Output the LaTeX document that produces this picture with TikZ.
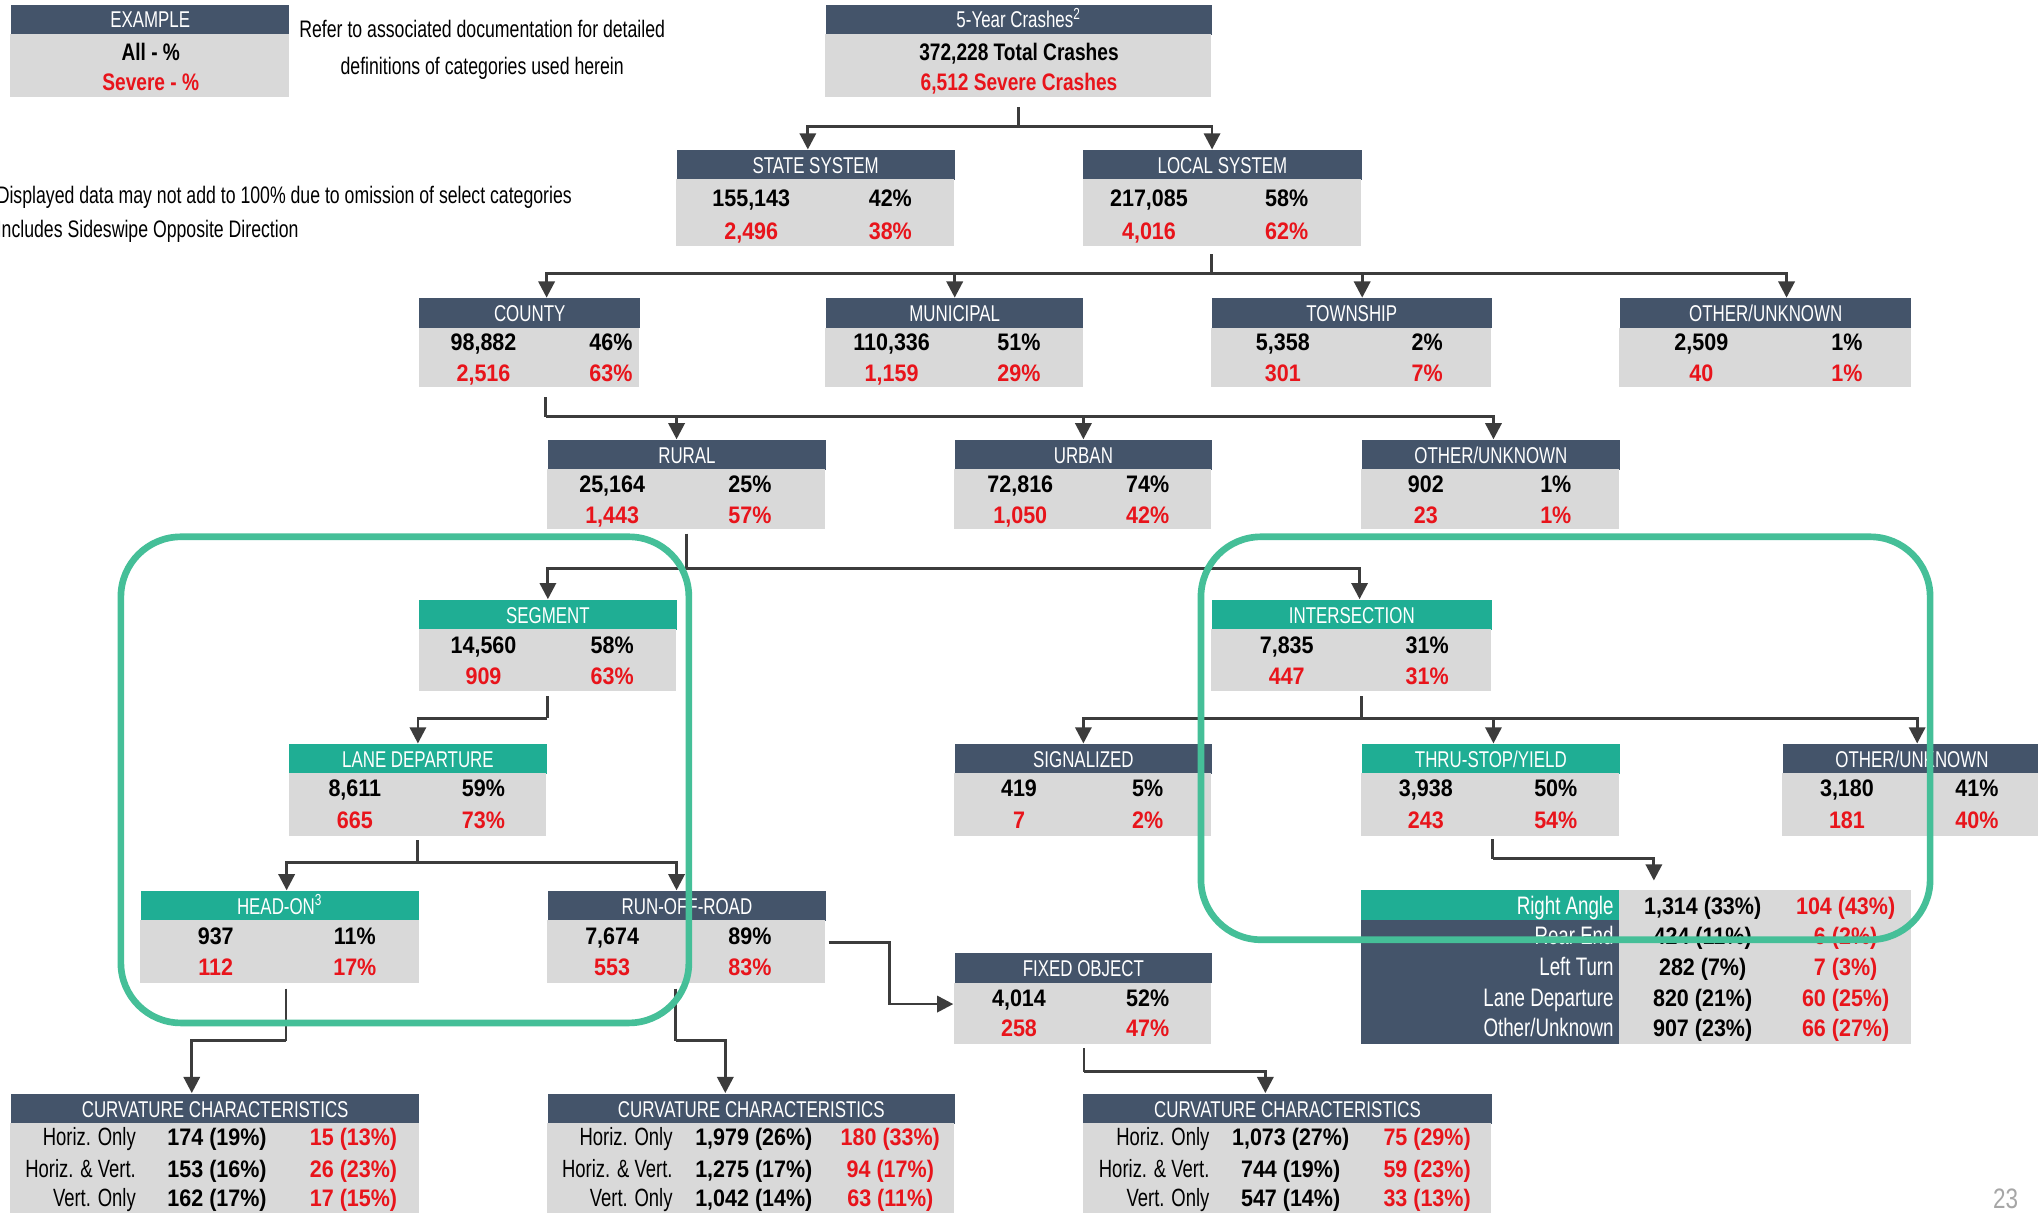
\documentclass[tikz,border=0pt]{standalone}
\usepackage{fontspec}
\setmainfont{Liberation Sans}[FakeStretch=0.8]
\newfontfamily\numfont{Liberation Sans}[FakeStretch=0.9]
\newfontfamily\hdfont{Liberation Sans}[FakeStretch=0.74]
\usetikzlibrary{arrows.meta,fit,calc}
\definecolor{hdrc}{HTML}{44546A}
\definecolor{tealc}{HTML}{1FAE94}
\definecolor{greenc}{HTML}{45BF98}
\definecolor{grayc}{HTML}{D9D9D9}
\definecolor{redc}{HTML}{E8141B}
\definecolor{linec}{HTML}{3C3C3C}
\newcommand\dbox[7]{%
  \node[#2, anchor=north west, minimum width={(#4-#3)*0.013cm}, minimum height={23*0.013cm}] (#1) at (#3,#5) {#7};
  \node[bd, fit={(#3,{#5+23})(#4,#6)}] (#1-b) {};}
\newcommand\dvals[9]{%
  \node[vk] (#1-v1) at (#2,#4) {#6};
  \node[vk] (#1-p1) at (#3,#4) {#7};
  \node[vr] (#1-v2) at (#2,#5) {#8};
  \node[vr] (#1-p2) at (#3,#5) {#9};}
\newcommand\crow[6]{%
  \node[clab, anchor=east] (#1-l) at (#2,#3) {#4};
  \node[vk] (#1-a) at ({#2+62},#3) {#5};
  \node[vr] (#1-c) at ({#2+167},#3) {#6};}
\begin{document}
\begin{tikzpicture}[x=0.013cm,y=-0.013cm,
  hd/.style={fill=hdrc, text=white, inner sep=0pt, text height=4.8pt, text depth=0pt, font=\hdfont\fontsize{6.5}{7}\selectfont},
  ht/.style={hd, fill=tealc},
  bd/.style={fill=grayc, inner sep=0pt},
  vk/.style={inner sep=0pt, text height=4.9pt, text depth=0pt, font=\numfont\bfseries\fontsize{6.8}{8}\selectfont},
  vr/.style={vk, text=redc},
  vt/.style={inner sep=0pt, text height=4.9pt, text depth=0pt, font=\bfseries\fontsize{6.8}{8}\selectfont},
  vtr/.style={vt, text=redc},
  clab/.style={inner sep=0pt, text height=4.9pt, text depth=0pt, font=\hdfont\fontsize{7.1}{8}\selectfont},
  wlab/.style={clab, text=white, font=\hdfont\fontsize{7.2}{8}\selectfont},
  note/.style={inner sep=0pt, font=\hdfont\fontsize{6.8}{10.5}\selectfont},
  ln/.style={draw=linec, line width=0.8pt},
  arr/.style={ln, -{Triangle[width=4.6pt,length=4.6pt]}},
  hl/.style={draw=greenc, line width=1.9pt, rounded corners=0.6cm}]
\useasboundingbox (0,0) rectangle (1568,933);
\fill[white] (0,0) rectangle (1568,933);

% legend
\dbox{ex}{hd}{8}{222}{3}{75}{EXAMPLE}
\node[vt] (ex-a) at (116,40) {All - \%};
\node[vtr] (ex-s) at (116,63) {Severe - \%};
\node[note, align=center] (n0) at (371,38) {Refer to associated documentation for detailed\\definitions of categories used herein};
\node[note, anchor=west] (n1) at (-3,152) {Displayed data may not add to 100\% due to omission of select categories};
\node[note, anchor=west] (n2) at (-3,178) {Includes Sideswipe Opposite Direction};

% top
\dbox{top}{hd}{635}{932}{3}{75}{5-Year Crashes\textsuperscript{2}}
\node[vt] (top-t) at (784,40) {372,228 Total Crashes};
\node[vtr] (top-s) at (784,63) {6,512 Severe Crashes};

% level 2
\dbox{state}{hd}{520}{734}{115}{189}{STATE SYSTEM}
\dvals{state}{578}{685}{152}{178}{155,143}{42\%}{2,496}{38\%}
\dbox{local}{hd}{833}{1047}{115}{189}{LOCAL SYSTEM}
\dvals{local}{884}{990}{152}{178}{217,085}{58\%}{4,016}{62\%}

% level 3
\dbox{county}{hd}{322}{492}{229}{298}{COUNTY}
\dvals{county}{372}{470}{263}{287}{98,882}{46\%}{2,516}{63\%}
\dbox{muni}{hd}{635}{833}{229}{298}{MUNICIPAL}
\dvals{muni}{686}{784}{263}{287}{110,336}{51\%}{1,159}{29\%}
\dbox{town}{hd}{932}{1147}{229}{298}{TOWNSHIP}
\dvals{town}{987}{1098}{263}{287}{5,358}{2\%}{301}{7\%}
\dbox{othA}{hd}{1246}{1470}{229}{298}{OTHER/UNKNOWN}
\dvals{othA}{1309}{1421}{263}{287}{2,509}{1\%}{40}{1\%}

% level 4
\dbox{rural}{hd}{421}{635}{338}{407}{RURAL}
\dvals{rural}{471}{577}{372}{396}{25,164}{25\%}{1,443}{57\%}
\dbox{urban}{hd}{734}{932}{338}{407}{URBAN}
\dvals{urban}{785}{883}{372}{396}{72,816}{74\%}{1,050}{42\%}
\dbox{othB}{hd}{1047}{1246}{338}{407}{OTHER/UNKNOWN}
\dvals{othB}{1097}{1197}{372}{396}{902}{1\%}{23}{1\%}

% level 5
\dbox{seg}{ht}{322}{520}{461}{532}{SEGMENT}
\dvals{seg}{372}{471}{496}{520}{14,560}{58\%}{909}{63\%}
\dbox{inter}{ht}{932}{1147}{461}{532}{INTERSECTION}
\dvals{inter}{990}{1098}{496}{520}{7,835}{31\%}{447}{31\%}

% level 6
\dbox{lane}{ht}{222}{420}{572}{643}{LANE DEPARTURE}
\dvals{lane}{273}{372}{606}{631}{8,611}{59\%}{665}{73\%}
\dbox{sig}{hd}{734}{932}{572}{643}{SIGNALIZED}
\dvals{sig}{784}{883}{606}{631}{419}{5\%}{7}{2\%}
\dbox{thru}{ht}{1047}{1246}{572}{643}{THRU-STOP/YIELD}
\dvals{thru}{1097}{1197}{606}{631}{3,938}{50\%}{243}{54\%}
\dbox{othC}{hd}{1371}{1570}{572}{643}{OTHER/UNKNOWN}
\dvals{othC}{1421}{1521}{606}{631}{3,180}{41\%}{181}{40\%}

% level 7
\dbox{head}{ht}{108}{322}{685}{756}{HEAD-ON\textsuperscript{3}}
\dvals{head}{166}{273}{720}{744}{937}{11\%}{112}{17\%}
\dbox{rof}{hd}{421}{635}{685}{756}{RUN-OFF-ROAD}
\dvals{rof}{471}{577}{720}{744}{7,674}{89\%}{553}{83\%}
\dbox{fixed}{hd}{734}{932}{733}{803}{FIXED OBJECT}
\dvals{fixed}{784}{883}{768}{791}{4,014}{52\%}{258}{47\%}

% intersection type table
\node[fill=tealc, inner sep=0pt, fit={(1047,685)(1246,708)}] (tbh) {};
\node[fill=hdrc, inner sep=0pt, fit={(1047,708)(1246,803)}] (tbl) {};
\node[bd, fit={(1246,685)(1470,803)}] (tbr) {};
\node[wlab, anchor=east] (t1-l) at (1242,697) {Right Angle};
\node[vk] (t1-a) at (1310,697) {1,314 (33\%)};
\node[vr] (t1-c) at (1420,697) {104 (43\%)};
\node[wlab, anchor=east] (t2-l) at (1242,720) {Rear End};
\node[vk] (t2-a) at (1310,720) {424 (11\%)};
\node[vr] (t2-c) at (1420,720) {6 (2\%)};
\node[wlab, anchor=east] (t3-l) at (1242,744) {Left Turn};
\node[vk] (t3-a) at (1310,744) {282 (7\%)};
\node[vr] (t3-c) at (1420,744) {7 (3\%)};
\node[wlab, anchor=east] (t4-l) at (1242,768) {Lane Departure};
\node[vk] (t4-a) at (1310,768) {820 (21\%)};
\node[vr] (t4-c) at (1420,768) {60 (25\%)};
\node[wlab, anchor=east] (t5-l) at (1242,791) {Other/Unknown};
\node[vk] (t5-a) at (1310,791) {907 (23\%)};
\node[vr] (t5-c) at (1420,791) {66 (27\%)};

% curvature tables
\dbox{cl}{hd}{8}{322}{841}{945}{CURVATURE CHARACTERISTICS}
\crow{cl1}{105}{875}{Horiz. Only}{174 (19\%)}{15 (13\%)}
\crow{cl2}{105}{899}{Horiz. \& Vert.}{153 (16\%)}{26 (23\%)}
\crow{cl3}{105}{922}{Vert. Only}{162 (17\%)}{17 (15\%)}
\dbox{cm}{hd}{421}{734}{841}{945}{CURVATURE CHARACTERISTICS}
\crow{cm1}{518}{875}{Horiz. Only}{1,979 (26\%)}{180 (33\%)}
\crow{cm2}{518}{899}{Horiz. \& Vert.}{1,275 (17\%)}{94 (17\%)}
\crow{cm3}{518}{922}{Vert. Only}{1,042 (14\%)}{63 (11\%)}
\dbox{cr}{hd}{833}{1147}{841}{945}{CURVATURE CHARACTERISTICS}
\crow{cr1}{931}{875}{Horiz. Only}{1,073 (27\%)}{75 (29\%)}
\crow{cr2}{931}{899}{Horiz. \& Vert.}{744 (19\%)}{59 (23\%)}
\crow{cr3}{931}{922}{Vert. Only}{547 (14\%)}{33 (13\%)}

\node[text=gray!70, inner sep=0pt, font=\fontsize{8}{9}\selectfont] (pg) at (1543,922) {23};

% connectors
\coordinate (b1) at ($(top-b.south)+(0,22)$);
\draw[ln] ($(top-b.south)+(0,7)$) -- (b1);
\draw[arr] (b1) -| ($(state.north)+(-6,0)$);
\draw[arr] (b1) -| ($(local.north)+(-8,0)$);

\coordinate (b2) at ($(local-b.south)+(-8,21)$);
\draw[ln] ($(local-b.south)+(-8,6)$) -- (b2);
\draw[arr] (b2) -| ($(county.north)+(13,0)$);
\draw[arr] (b2) -| (muni.north);
\draw[arr] (b2) -| ($(town.north)+(8,0)$);
\draw[arr] (b2) -| ($(othA.north)+(16,0)$);

\coordinate (b3) at ($(county-b.south)+(13,22)$);
\draw[ln] ($(county-b.south)+(13,7)$) -- (b3);
\draw[arr] (b3) -| ($(rural.north)+(-8,0)$);
\draw[arr] (b3) -| (urban.north);
\draw[arr] (b3) -| ($(othB.north)+(2,0)$);

\coordinate (b4) at ($(rural-b.south)+(0,30)$);
\draw[ln] ($(rural-b.south)+(0,3)$) -- (b4);
\draw[arr] (b4) -| (seg.north);
\draw[arr] (b4) -| ($(inter.north)+(6,0)$);

\coordinate (b5) at ($(seg-b.south)+(0,20)$);
\draw[ln] ($(seg-b.south)+(0,3)$) -- (b5);
\draw[arr] (b5) -| (lane.north);

\coordinate (b6) at ($(inter-b.south)+(8,20)$);
\draw[ln] ($(inter-b.south)+(8,3)$) -- (b6);
\draw[arr] (b6) -| (sig.north);
\draw[arr] (b6) -| ($(thru.north)+(2,0)$);
\draw[arr] (b6) -| ($(othC.north)+(4,0)$);

\coordinate (b7) at ($(lane-b.south)+(0,20)$);
\draw[ln] ($(lane-b.south)+(0,3)$) -- (b7);
\draw[arr] (b7) -| ($(head.north)+(5,0)$);
\draw[arr] (b7) -| ($(rof.north)+(-8,0)$);

\draw[arr] ($(rof-b.east)+(2,-7)$) -- ++(47,0) |- ($(fixed-b.west)+(0,-7)$);

\coordinate (b9) at ($(head-b.south)+(5,44)$);
\draw[ln] ($(head-b.south)+(5,4)$) -- (b9);
\draw[arr] (b9) -| ($(cl.north)+(-18,0)$);

\coordinate (b10) at ($(rof-b.south)+(-8,44)$);
\draw[ln] ($(rof-b.south)+(-8,4)$) -- (b10);
\draw[arr] (b10) -| ($(cm.north)+(-20,0)$);

\coordinate (b11) at ($(fixed-b.south)+(1,21)$);
\draw[ln] ($(fixed-b.south)+(1,3)$) -- (b11);
\draw[arr] (b11) -| ($(cr.north)+(-17,0)$);

\coordinate (b12) at ($(thru-b.south)+(2,17)$);
\draw[ln] ($(thru-b.south)+(2,2)$) -- (b12);
\draw[arr] (b12) -| ($(tbh.north west)+(226,-7)$);

% highlight outlines
\draw[hl] (93,413) rectangle (530,787);
\draw[hl] (924,413) rectangle (1485,723);
\end{tikzpicture}
\end{document}
